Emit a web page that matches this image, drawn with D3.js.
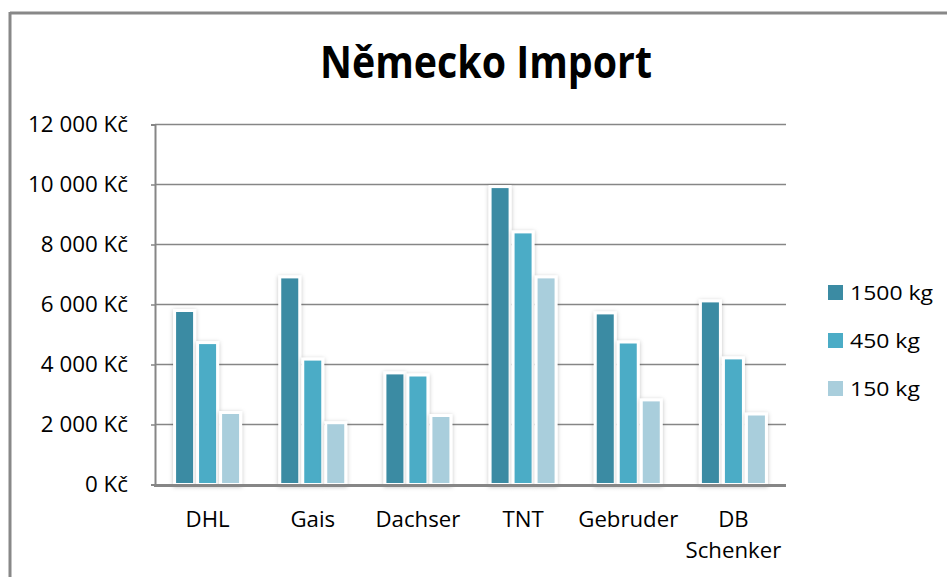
<!DOCTYPE html>
<html>
<head>
<meta charset="utf-8">
<script src="https://cdn.jsdelivr.net/npm/d3@7"></script>
<style>
  body { margin: 0; background: #fff; }
  svg { display: block; font-family: "Open Sans", "Noto Sans", sans-serif; }
</style>
</head>
<body>
<svg id="chart" width="947" height="577"></svg>
<script>
// data
const categories = ["DHL", "Gais", "Dachser", "TNT", "Gebruder", "DB Schenker"];
const seriesNames = ["1500 kg", "450 kg", "150 kg"];
const v1500 = [5800, 6920, 3720, 9930, 5720, 6120];
const v450 = [4730, 4180, 3650, 8420, 4750, 4220];
const v150 = [2400, 2060, 2300, 6920, 2820, 2350];
const yTicks = [0, 2000, 4000, 6000, 8000, 10000, 12000];
const colors = ["#3b8ba3", "#4bacc6", "#a9cedc"];

const series = [v1500, v450, v150];

const svg = d3.select("#chart");

// stretch text a bit, like the original rendering
function stretch(sel, k) {
  sel.each(function() {
    d3.select(this).attr("textLength", this.getComputedTextLength() * k)
      .attr("lengthAdjust", "spacingAndGlyphs");
  });
}

// drop shadow for the bars
const defs = svg.append("defs");
const f = defs.append("filter").attr("id", "shadow")
  .attr("x", "-30%").attr("y", "-10%").attr("width", "160%").attr("height", "120%");
f.append("feDropShadow").attr("dx", 0).attr("dy", 1).attr("stdDeviation", 2)
  .attr("flood-color", "#000").attr("flood-opacity", 0.25);

// outer frame (left + top only visible)
svg.append("line").attr("x1", 10).attr("y1", 13).attr("x2", 947).attr("y2", 13)
  .attr("stroke", "#888").attr("stroke-width", 3);
svg.append("line").attr("x1", 10).attr("y1", 12).attr("x2", 10).attr("y2", 577)
  .attr("stroke", "#888").attr("stroke-width", 3);

const x0 = 155, x1 = 786;
const y = d3.scaleLinear().domain([0, 12000]).range([484.5, 124.5]);
const x = d3.scaleBand().domain(categories).range([x0, x1]);

// title
svg.append("text")
  .attr("x", 486).attr("y", 78)
  .attr("text-anchor", "middle")
  .attr("font-size", 44).attr("font-weight", "bold")
  .attr("textLength", 332).attr("lengthAdjust", "spacingAndGlyphs")
  .text("Německo Import");

// gridlines
svg.append("g").selectAll("line")
  .data(yTicks.filter(d => d > 0))
  .enter().append("line")
  .attr("x1", x0).attr("x2", x1)
  .attr("y1", d => y(d)).attr("y2", d => y(d))
  .attr("stroke", "#868686").attr("stroke-width", 1.5);

// y axis
const yAxis = svg.append("g")
  .attr("transform", `translate(${x0},0)`)
  .call(d3.axisLeft(y).tickValues(yTicks).tickSize(4).tickPadding(23)
    .tickFormat(d => d3.format(",")(d).replace(/,/g, " ") + " Kč"));
yAxis.select(".domain").attr("stroke", "#868686").attr("stroke-width", 2);
yAxis.selectAll(".tick line").attr("stroke", "#868686").attr("stroke-width", 1.5);
yAxis.selectAll(".tick text").attr("font-size", 21).attr("fill", "#000")
  .attr("font-family", "'Open Sans', sans-serif");
{
  const top = yAxis.selectAll(".tick text").filter(d => d === 12000).node();
  stretch(yAxis.selectAll(".tick text"), 100 / top.getComputedTextLength());
}

// bars
const bw = 20, step = 23;
const groups = svg.append("g").selectAll("g")
  .data(categories)
  .enter().append("g")
  .attr("transform", d => `translate(${x(d) + x.bandwidth() / 2},0)`);

groups.selectAll("rect")
  .data((d, i) => series.map((s, k) => ({ k: k, v: s[i] })))
  .enter().append("rect")
  .attr("x", d => (d.k - 1) * step - bw / 2)
  .attr("y", d => y(d.v))
  .attr("width", bw)
  .attr("height", d => y(0) - y(d.v))
  .attr("fill", d => colors[d.k])
  .attr("stroke", "#fff").attr("stroke-width", 3)
  .attr("filter", "url(#shadow)");

// x axis baseline
svg.append("line").attr("x1", x0 - 1).attr("x2", x1)
  .attr("y1", y(0) + 1).attr("y2", y(0) + 1)
  .attr("stroke", "#868686").attr("stroke-width", 3);

// category labels
const xl = svg.append("g").selectAll("text")
  .data(categories)
  .enter().append("text")
  .attr("x", d => x(d) + x.bandwidth() / 2)
  .attr("y", 527)
  .attr("text-anchor", "middle")
  .attr("font-size", 22);
const tspans = [];
xl.each(function(d) {
  const parts = d === "DB Schenker" ? ["DB", "Schenker"] : [d];
  const t = d3.select(this);
  parts.forEach((p, i) => {
    tspans.push(t.append("tspan").attr("x", x(d) + x.bandwidth() / 2)
      .attr("y", 527 + i * 31).text(p).node());
  });
});
{
  const geb = tspans.find(n => n.textContent === "Gebruder");
  const k = 100 / geb.getComputedTextLength();
  tspans.forEach(n => d3.select(n)
    .attr("textLength", n.getComputedTextLength() * k)
    .attr("lengthAdjust", "spacingAndGlyphs"));
}

// legend
const legend = svg.append("g").selectAll("g")
  .data(seriesNames)
  .enter().append("g")
  .attr("transform", (d, i) => `translate(828,${285 + i * 48})`);
legend.append("rect").attr("width", 15).attr("height", 15)
  .attr("fill", (d, i) => colors[i]);
const lt = legend.append("text").attr("x", 22).attr("y", 15)
  .attr("font-size", 20)
  .text(d => d);
stretch(lt, 83 / lt.filter(d => d === "1500 kg").node().getComputedTextLength());
</script>
</body>
</html>
